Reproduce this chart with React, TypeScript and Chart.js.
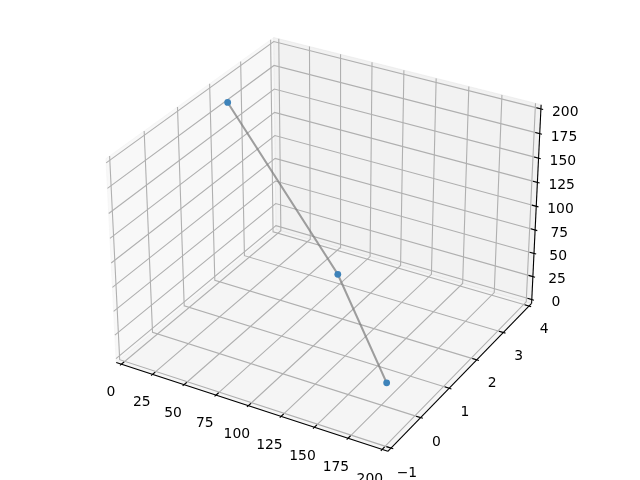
import React, { useEffect, useRef } from "react";
import { Chart, registerables } from "chart.js";

Chart.register(...registerables);

const xTicks = [0, 25, 50, 75, 100, 125, 150, 175, 200];
const yTicks = [-1, 0, 1, 2, 3, 4];
const zTicks = [0, 25, 50, 75, 100, 125, 150, 175, 200];
const xLim = [0, 200];
const yLim = [-1, 4];
const zLim = [0, 200];
const seriesX = [10, 94, 167.5];
const seriesY = [2, 2.1, 0.52];
const seriesZ = [190, 39, 0];

type V3 = [number, number, number];
const dot = (a: V3, b: V3) => a[0] * b[0] + a[1] * b[1] + a[2] * b[2];
const cross = (a: V3, b: V3): V3 => [
  a[1] * b[2] - a[2] * b[1],
  a[2] * b[0] - a[0] * b[2],
  a[0] * b[1] - a[1] * b[0],
];
const norm = (a: V3): V3 => {
  const l = Math.sqrt(dot(a, a));
  return [a[0] / l, a[1] / l, a[2] / l];
};

const DIST = 10;
const elev = (30 * Math.PI) / 180;
const azim = (-60 * Math.PI) / 180;
const aspectLen = Math.sqrt(16 + 16 + 9);
const boxScale = (1.8294640721620434 * 25) / 24 / aspectLen;
const box: V3 = [4 * boxScale, 4 * boxScale, 3 * boxScale];
const R: V3 = [box[0] / 2, box[1] / 2, box[2] / 2];
const N: V3 = [Math.cos(elev) * Math.cos(azim), Math.cos(elev) * Math.sin(azim), Math.sin(elev)];
const E: V3 = [R[0] + DIST * N[0], R[1] + DIST * N[1], R[2] + DIST * N[2]];
const U = norm(cross([0, 0, 1], N));
const W = cross(N, U);
const K = 2540;
const CX = 328;
const CY = 234;

function project(x: number, y: number, z: number) {
  const p: V3 = [
    ((x - xLim[0]) / (xLim[1] - xLim[0])) * box[0] - E[0],
    ((y - yLim[0]) / (yLim[1] - yLim[0])) * box[1] - E[1],
    ((z - zLim[0]) / (zLim[1] - zLim[0])) * box[2] - E[2],
  ];
  const w = -dot(N, p);
  return { x: CX + (K * dot(U, p)) / w, y: CY - (K * dot(W, p)) / w };
}

const pad = (l: number[]) => (l[1] - l[0]) / 48;
const x0 = xLim[0] - pad(xLim);
const x1 = xLim[1] + pad(xLim);
const y0 = yLim[0] - pad(yLim);
const y1 = yLim[1] + pad(yLim);
const z0 = zLim[0] - pad(zLim);
const z1 = zLim[1] + pad(zLim);
const tickX = (xLim[1] - xLim[0]) / 12;
const tickY = (yLim[1] - yLim[0]) / 12;

const line = (pts: number[][], color: string, width: number, extra: object = {}) => ({
  type: "scatter" as const,
  data: pts.map((p) => project(p[0], p[1], p[2])),
  showLine: true,
  borderColor: color,
  borderWidth: width,
  pointRadius: 0,
  tension: 0,
  clip: false,
  ...extra,
});

const pane = (pts: number[][], color: string) =>
  line([...pts, pts[0]], color, 1, { fill: "shape", backgroundColor: color });

const GRID = "rgb(176,176,176)";
const AXIS = "rgb(0,0,0)";

const layers: any[] = [
  pane([[x0, y0, z0], [x1, y0, z0], [x1, y1, z0], [x0, y1, z0]], "rgba(236,236,236,0.5)"),
  pane([[x0, y0, z0], [x0, y1, z0], [x0, y1, z1], [x0, y0, z1]], "rgba(242,242,242,0.5)"),
  pane([[x0, y1, z0], [x1, y1, z0], [x1, y1, z1], [x0, y1, z1]], "rgba(230,230,230,0.5)"),
  ...xTicks.map((t) => line([[t, y0, z0], [t, y1, z0], [t, y1, z1]], GRID, 1.1)),
  ...yTicks.map((t) => line([[x1, t, z0], [x0, t, z0], [x0, t, z1]], GRID, 1.1)),
  ...zTicks.map((t) => line([[x0, y0, t], [x0, y1, t], [x1, y1, t]], GRID, 1.1)),
  line([[x0, y0, z0], [x1, y0, z0]], AXIS, 1.1),
  line([[x1, y0, z0], [x1, y1, z0]], AXIS, 1.1),
  line([[x1, y1, z0], [x1, y1, z1]], AXIS, 1.1),
  ...xTicks.map((t) => line([[t, y0 + 0.2 * tickY, z0], [t, y0 - 0.1 * tickY, z0]], AXIS, 1.1)),
  ...yTicks.map((t) => line([[x1 - 0.2 * tickX, t, z0], [x1 + 0.1 * tickX, t, z0]], AXIS, 1.1)),
  ...zTicks.map((t) => line([[x1 - 0.2 * tickX, y1, t], [x1 + 0.1 * tickX, y1, t]], AXIS, 1.1)),
  {
    type: "scatter" as const,
    data: seriesX.map((x, i) => project(x, seriesY[i], seriesZ[i])),
    showLine: true,
    borderColor: "rgba(128,128,128,0.75)",
    borderWidth: 2.08,
    pointRadius: 0,
    tension: 0,
    clip: false,
  },
  {
    type: "scatter" as const,
    data: seriesX.map((x, i) => project(x, seriesY[i], seriesZ[i])),
    showLine: false,
    backgroundColor: "rgb(62,131,186)",
    borderColor: "rgb(62,131,186)",
    borderWidth: 0,
    pointRadius: 3.4,
    clip: false,
  },
];
// Chart.js paints the first dataset last, so the bottom layer goes at the end.
const datasets = layers.slice().reverse();

const tickText = {
  id: "tickText",
  afterDatasetsDraw(chart: Chart) {
    const ctx = chart.ctx;
    ctx.save();
    ctx.font = '13.9px "DejaVu Sans"';
    ctx.fillStyle = "#000";
    ctx.textAlign = "center";
    ctx.textBaseline = "middle";
    const put = (s: string, p: { x: number; y: number }, dx: number, dy: number) =>
      ctx.fillText(s, p.x + dx, p.y + dy);
    xTicks.forEach((t) => put(String(t), project(t, y0, z0), -8 - t / 40, 26));
    yTicks.forEach((t) => put(String(t).replace("-", "\u2212"), project(x1, t, z0), 15 - (t + 1) * 0.5, 22));
    zTicks.forEach((t) => put(String(t), project(x1, y1, t), 21.5, 2 + t / 50));
    ctx.restore();
  },
};

export default function App() {
  const ref = useRef<HTMLCanvasElement>(null);
  useEffect(() => {
    if (!ref.current) return;
    const chart = new Chart(ref.current, {
      type: "scatter",
      data: { datasets },
      options: {
        animation: false,
        responsive: false,
        maintainAspectRatio: false,
        layout: { padding: 0 },
        scales: {
          x: { type: "linear", min: 0, max: 640, display: false },
          y: { type: "linear", min: 0, max: 480, reverse: true, display: false },
        },
        plugins: { legend: { display: false }, tooltip: { enabled: false } },
      },
      plugins: [tickText],
    });
    return () => chart.destroy();
  }, []);
  return (
    <div style={{ position: "fixed", left: 0, top: 0, width: 640, height: 480 }}>
      <canvas ref={ref} width={640} height={480} style={{ display: "block" }} />
    </div>
  );
}
